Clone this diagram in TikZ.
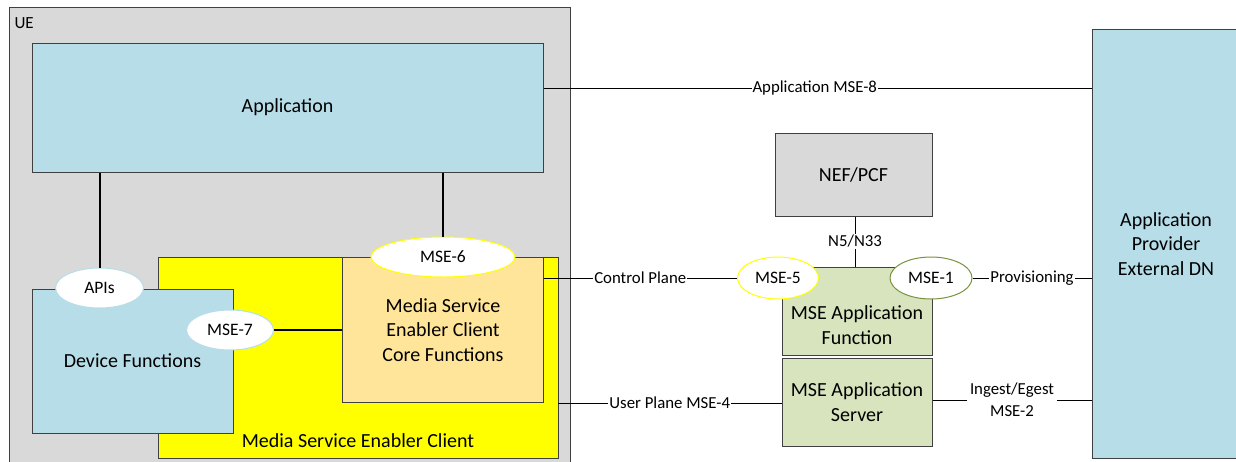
\documentclass[tikz,border=0pt]{standalone}
\usepackage{fontspec}
\setmainfont{Carlito}
\usetikzlibrary{shapes.geometric}
\definecolor{boxblue}{HTML}{B7DDE8}
\definecolor{uegray}{HTML}{D9D9D9}
\definecolor{coreorange}{HTML}{FFE599}
\definecolor{afgreen}{HTML}{D7E4BD}
\definecolor{edge}{HTML}{404040}
\definecolor{olive}{HTML}{77933C}
\definecolor{brightyellow}{HTML}{FFFF00}
\tikzset{
  bigtext/.style={font=\fontsize{20}{24.5}\selectfont, align=center},
  blockbox/.style={draw=edge, line width=1pt, inner sep=0pt, bigtext},
  ovalnode/.style={ellipse, fill=white, line width=1pt, inner sep=0pt, font=\fontsize{17.5}{21}\selectfont},
  link/.style={draw=black, line width=0.8pt},
  thicklink/.style={draw=black, line width=2pt},
  linklabel/.style={fill=white, inner sep=1pt, font=\fontsize{16.8}{22}\selectfont, align=center},
}
\begin{document}
\begin{tikzpicture}[x=1pt,y=-1pt]
\useasboundingbox (0,0) rectangle (1236,461);

% UE container
\filldraw[fill=uegray, draw=edge, line width=1pt] (9,7) rectangle (570,470);
\node[font=\fontsize{17}{20}\selectfont, anchor=west] (ue) at (11,23) {UE};

% Application
\node[blockbox, fill=boxblue, minimum width=511pt, minimum height=129pt] (app) at (287.5,107.5) {Application};

% Media Service Enabler Client
\filldraw[fill=brightyellow, draw=edge, line width=1pt] (158,257) rectangle (558,458);
\node[bigtext] (msec) at (358,441) {Media Service Enabler Client};

% Core functions
\node[blockbox, fill=coreorange, minimum width=201pt, minimum height=145pt] (core) at (442.5,329.5) {};
\node[bigtext] (coretext) at (443,330) {Media Service\\Enabler Client\\Core Functions};

% Device functions
\node[blockbox, fill=boxblue, minimum width=201pt, minimum height=144pt] (dev) at (132.5,361) {Device Functions};

% Network side
\node[blockbox, fill=uegray, minimum width=157pt, minimum height=83pt] (nef) at (853.5,174.5) {NEF/PCF};
\node[blockbox, fill=afgreen, minimum width=150pt, minimum height=88pt] (af) at (857,311) {};
\node[bigtext] (aftext) at (857,325) {MSE Application\\Function};
\node[blockbox, fill=afgreen, minimum width=150pt, minimum height=88pt] (as) at (857,402) {MSE Application\\Server};
\node[blockbox, fill=boxblue, minimum width=160pt, minimum height=429pt] (prov) at (1172,243.5) {};
\node[bigtext] (provtext) at (1166,244) {Application\\Provider\\External DN};

% Reference point ovals
\node[ovalnode, draw=boxblue, minimum width=88pt, minimum height=40pt] (apis) at (99.5,288) {APIs};
\node[ovalnode, draw=brightyellow, minimum width=144pt, minimum height=40pt] (mse6) at (443,257) {MSE-6};
\node[ovalnode, draw=boxblue, minimum width=87pt, minimum height=40pt] (mse7) at (230,330) {MSE-7};
\node[ovalnode, draw=brightyellow, minimum width=81pt, minimum height=42pt] (mse5) at (778,278) {MSE-5};
\node[ovalnode, draw=olive, minimum width=82pt, minimum height=42pt] (mse1) at (931,278) {MSE-1};

% Connectors inside the UE
\draw[thicklink] (app.south -| apis) -- (apis.north);
\draw[thicklink] (app.south -| mse6) -- (mse6.north);
\draw[thicklink] (mse7.east) -- (mse7.east -| core.west);

% Connectors towards the network
\coordinate (cpstart) at (core.east |- mse5);
\coordinate (upstart) at (558,403);
\coordinate (a8start) at (app.east |- 0,88);
\draw[link] (a8start) -- node[linklabel, pos=0.495] {Application MSE-8} (a8start -| prov.west);
\draw[link] (cpstart) -- node[linklabel, pos=0.5] {Control Plane} (mse5.west);
\draw[link] (mse1.east) -- node[linklabel, pos=0.5] {Provisioning} (mse1.east -| prov.west);
\draw[link] (nef.south -| 855,0) -- node[linklabel] {N5/N33} (af.north -| 855,0);
\draw[link] (upstart) -- node[linklabel, pos=0.5] {User Plane MSE-4} (upstart -| as.west);
\draw[link] (as.east |- 0,400) -- node[linklabel, pos=0.5, inner sep=3pt] {Ingest/Egest\\MSE-2} (prov.west |- 0,400);
\end{tikzpicture}
\end{document}
